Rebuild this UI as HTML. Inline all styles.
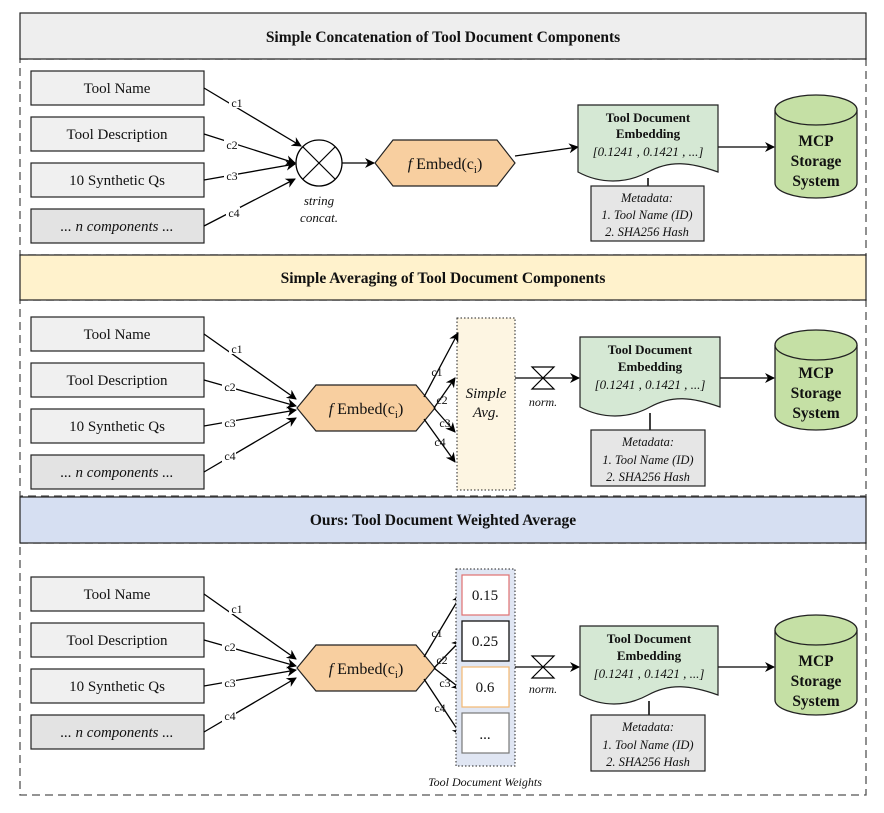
<!DOCTYPE html>
<html><head><meta charset="utf-8"><style>
html,body{margin:0;padding:0;background:#fff}
svg{display:block}
text{font-family:"Liberation Serif",serif;fill:#111}
.b{font-weight:bold}
.i{font-style:italic}
</style></head><body>
<svg width="884" height="813" viewBox="0 0 884 813" xmlns="http://www.w3.org/2000/svg">
<defs>
<marker id="a" markerWidth="10" markerHeight="10" refX="9" refY="5" orient="auto" markerUnits="userSpaceOnUse"><path d="M0,0 L10,5 L0,10 L3,5 z" fill="#000"/></marker>
</defs>
<!-- section containers -->
<g fill="none" stroke="#555" stroke-width="1.3" stroke-dasharray="8,5">
<rect x="20" y="59" width="846" height="196"/>
<rect x="20" y="300" width="846" height="196"/>
<rect x="20" y="543" width="846" height="252"/>
</g>
<rect x="20" y="13" width="846" height="46" fill="#eeeeee" stroke="#222" stroke-width="1.2"/>
<text x="443" y="42" text-anchor="middle" class="b" font-size="15.5">Simple Concatenation of Tool Document Components</text>
<rect x="20" y="255" width="846" height="45" fill="#fff2cc" stroke="#222" stroke-width="1.2"/>
<text x="443" y="283" text-anchor="middle" class="b" font-size="15.5">Simple Averaging of Tool Document Components</text>
<rect x="20" y="497" width="846" height="46" fill="#d6dff2" stroke="#222" stroke-width="1.2"/>
<text x="443" y="525" text-anchor="middle" class="b" font-size="15.5">Ours: Tool Document Weighted Average</text>

<!-- input boxes -->
<g stroke="#222" stroke-width="1.2">
<rect x="31" y="71" width="173" height="34" fill="#f0f0f0"/>
<rect x="31" y="117" width="173" height="34" fill="#f0f0f0"/>
<rect x="31" y="163" width="173" height="34" fill="#f0f0f0"/>
<rect x="31" y="209" width="173" height="34" fill="#e3e3e3"/>
<rect x="31" y="317" width="173" height="34" fill="#f0f0f0"/>
<rect x="31" y="363" width="173" height="34" fill="#f0f0f0"/>
<rect x="31" y="409" width="173" height="34" fill="#f0f0f0"/>
<rect x="31" y="455" width="173" height="34" fill="#e3e3e3"/>
<rect x="31" y="577" width="173" height="34" fill="#f0f0f0"/>
<rect x="31" y="623" width="173" height="34" fill="#f0f0f0"/>
<rect x="31" y="669" width="173" height="34" fill="#f0f0f0"/>
<rect x="31" y="715" width="173" height="34" fill="#e3e3e3"/>
</g>
<g font-size="15" text-anchor="middle">
<text x="117" y="93">Tool Name</text><text x="117" y="139">Tool Description</text><text x="117" y="185">10 Synthetic Qs</text><text x="117" y="231" class="i">... n components ...</text>
<text x="117" y="339">Tool Name</text><text x="117" y="385">Tool Description</text><text x="117" y="431">10 Synthetic Qs</text><text x="117" y="477" class="i">... n components ...</text>
<text x="117" y="599">Tool Name</text><text x="117" y="645">Tool Description</text><text x="117" y="691">10 Synthetic Qs</text><text x="117" y="737" class="i">... n components ...</text>
</g>

<!-- section 1 arrows -->
<g stroke="#000" stroke-width="1.3" fill="none" marker-end="url(#a)">
<line x1="204" y1="88" x2="301" y2="146"/>
<line x1="204" y1="134" x2="295" y2="163"/>
<line x1="204" y1="180" x2="295" y2="164"/>
<line x1="204" y1="226" x2="295" y2="179"/>
<line x1="342" y1="163" x2="374" y2="163"/>
<line x1="515" y1="156" x2="578" y2="147"/>
<line x1="717" y1="147" x2="774" y2="147"/>
</g>
<circle cx="319" cy="163" r="23" fill="#fff" stroke="#000" stroke-width="1.3"/>
<line x1="303" y1="147" x2="335" y2="179" stroke="#000" stroke-width="1.2"/>
<line x1="335" y1="147" x2="303" y2="179" stroke="#000" stroke-width="1.2"/>
<text x="319" y="205" text-anchor="middle" class="i" font-size="13">string</text>
<text x="319" y="222" text-anchor="middle" class="i" font-size="13">concat.</text>
<g font-size="12" text-anchor="middle">
<rect x="229" y="96" width="14" height="12" fill="#fff"/><text x="237" y="107">c1</text>
<rect x="224" y="139" width="14" height="12" fill="#fff"/><text x="232" y="149">c2</text>
<rect x="224" y="170" width="14" height="12" fill="#fff"/><text x="232" y="180">c3</text>
<rect x="226" y="207" width="14" height="12" fill="#fff"/><text x="234" y="217">c4</text>
</g>

<!-- hexagons -->
<g fill="#f8cfa0" stroke="#222" stroke-width="1.2">
<polygon points="375,163 393,140 497,140 515,163 497,186 393,186"/>
<polygon points="297,408 316,385 416,385 435,408 416,431 316,431"/>
<polygon points="297,668 316,645 416,645 435,668 416,691 316,691"/>
</g>
<g font-size="16" text-anchor="middle">
<text x="445" y="169"><tspan class="i">f</tspan> Embed(c<tspan font-size="11" dy="4">i</tspan><tspan dy="-4">)</tspan></text>
<text x="366" y="414"><tspan class="i">f</tspan> Embed(c<tspan font-size="11" dy="4">i</tspan><tspan dy="-4">)</tspan></text>
<text x="366" y="674"><tspan class="i">f</tspan> Embed(c<tspan font-size="11" dy="4">i</tspan><tspan dy="-4">)</tspan></text>
</g>

<!-- section 2/3 input arrows -->
<g stroke="#000" stroke-width="1.3" fill="none" marker-end="url(#a)">
<line x1="204" y1="334" x2="296" y2="399"/>
<line x1="204" y1="380" x2="296" y2="406"/>
<line x1="204" y1="426" x2="296" y2="410"/>
<line x1="204" y1="472" x2="296" y2="418"/>
<line x1="204" y1="594" x2="296" y2="659"/>
<line x1="204" y1="640" x2="296" y2="666"/>
<line x1="204" y1="686" x2="296" y2="670"/>
<line x1="204" y1="732" x2="296" y2="678"/>
</g>
<g font-size="12" text-anchor="middle">
<rect x="229" y="342" width="14" height="12" fill="#fff"/><text x="237" y="353">c1</text>
<rect x="222" y="381" width="14" height="12" fill="#fff"/><text x="230" y="391">c2</text>
<rect x="222" y="417" width="14" height="12" fill="#fff"/><text x="230" y="427">c3</text>
<rect x="222" y="450" width="14" height="12" fill="#fff"/><text x="230" y="460">c4</text>
<rect x="229" y="602" width="14" height="12" fill="#fff"/><text x="237" y="613">c1</text>
<rect x="222" y="641" width="14" height="12" fill="#fff"/><text x="230" y="651">c2</text>
<rect x="222" y="677" width="14" height="12" fill="#fff"/><text x="230" y="687">c3</text>
<rect x="222" y="710" width="14" height="12" fill="#fff"/><text x="230" y="720">c4</text>
</g>

<!-- simple avg -->
<rect x="457" y="318" width="58" height="172" fill="#fdf5e2" stroke="#222" stroke-width="1" stroke-dasharray="1.5,2"/>
<text x="486" y="398" text-anchor="middle" class="i" font-size="15">Simple</text>
<text x="486" y="417" text-anchor="middle" class="i" font-size="15">Avg.</text>
<g stroke="#000" stroke-width="1.3" fill="none" marker-end="url(#a)">
<line x1="424" y1="397" x2="458" y2="333"/>
<line x1="434" y1="408" x2="455" y2="378"/>
<line x1="434" y1="408" x2="455" y2="432"/>
<line x1="424" y1="419" x2="455" y2="462"/>
<line x1="424" y1="657" x2="461" y2="595"/>
<line x1="434" y1="668" x2="461" y2="640"/>
<line x1="434" y1="668" x2="461" y2="689"/>
<line x1="424" y1="679" x2="461" y2="735"/>
</g>
<g font-size="12" text-anchor="middle">
<text x="437" y="376">c1</text><text x="442" y="404">c2</text><text x="445" y="427">c3</text><text x="440" y="446">c4</text>
<text x="437" y="637">c1</text><text x="442" y="664">c2</text><text x="445" y="687">c3</text><text x="440" y="712">c4</text>
</g>

<!-- weights -->
<rect x="456" y="569" width="59" height="197" fill="#e0e6f3" stroke="#222" stroke-width="1" stroke-dasharray="1.5,2"/>
<rect x="462" y="575" width="47" height="40" fill="#fff" stroke="#e07070" stroke-width="1.2"/>
<rect x="462" y="621" width="47" height="40" fill="#fff" stroke="#111" stroke-width="1.3"/>
<rect x="462" y="667" width="47" height="40" fill="#fff" stroke="#f4b870" stroke-width="1.2"/>
<rect x="462" y="713" width="47" height="40" fill="#fff" stroke="#777" stroke-width="1.2"/>
<g font-size="15" text-anchor="middle">
<text x="485" y="600">0.15</text><text x="485" y="646">0.25</text><text x="485" y="692">0.6</text><text x="485" y="739">...</text>
</g>
<text x="485" y="786" text-anchor="middle" class="i" font-size="12">Tool Document Weights</text>

<!-- norm and arrows -->
<g stroke="#000" stroke-width="1.3" fill="none" marker-end="url(#a)">
<line x1="515" y1="378" x2="579" y2="378"/>
<line x1="720" y1="378" x2="774" y2="378"/>
<line x1="515" y1="667" x2="579" y2="667"/>
<line x1="718" y1="667" x2="774" y2="667"/>
</g>
<g fill="#fff" stroke="#000" stroke-width="1.2">
<polygon points="532,367 554,367 532,389 554,389"/>
<polygon points="532,656 554,656 532,678 554,678"/>
</g>
<text x="543" y="406" text-anchor="middle" class="i" font-size="12">norm.</text>
<text x="543" y="693" text-anchor="middle" class="i" font-size="12">norm.</text>

<!-- doc shapes -->
<g fill="#d5e8d4" stroke="#222" stroke-width="1.2">
<path d="M578,105 H718 V172 C690,162 670,160 648,172 C626,184 600,184 578,172 Z"/>
<path d="M580,337 H720 V407 C692,397 672,395 650,407 C628,419 602,419 580,407 Z"/>
<path d="M580,626 H718 V695 C690,685 670,683 648,695 C626,707 602,707 580,695 Z"/>
</g>
<g stroke="#000" stroke-width="1.5">
<line x1="648" y1="178" x2="648" y2="186"/>
<line x1="650" y1="413" x2="650" y2="430"/>
<line x1="649" y1="701" x2="649" y2="715"/>
</g>
<g text-anchor="middle">
<text x="648" y="122" class="b" font-size="13">Tool Document</text>
<text x="648" y="138" class="b" font-size="13">Embedding</text>
<text x="648" y="156" class="i" font-size="13">[0.1241 , 0.1421 , ...]</text>
<text x="650" y="354" class="b" font-size="13">Tool Document</text>
<text x="650" y="371" class="b" font-size="13">Embedding</text>
<text x="650" y="389" class="i" font-size="13">[0.1241 , 0.1421 , ...]</text>
<text x="649" y="643" class="b" font-size="13">Tool Document</text>
<text x="649" y="660" class="b" font-size="13">Embedding</text>
<text x="649" y="678" class="i" font-size="13">[0.1241 , 0.1421 , ...]</text>
</g>

<!-- metadata -->
<g fill="#e6e6e6" stroke="#222" stroke-width="1.2">
<rect x="591" y="186" width="113" height="55"/>
<rect x="591" y="430" width="114" height="56"/>
<rect x="591" y="715" width="114" height="56"/>
</g>
<g text-anchor="middle" class="i" font-size="12.5">
<text x="647" y="202">Metadata:</text><text x="647" y="219">1. Tool Name (ID)</text><text x="647" y="236">2. SHA256 Hash</text>
<text x="648" y="446">Metadata:</text><text x="648" y="464">1. Tool Name (ID)</text><text x="648" y="481">2. SHA256 Hash</text>
<text x="648" y="731">Metadata:</text><text x="648" y="749">1. Tool Name (ID)</text><text x="648" y="766">2. SHA256 Hash</text>
</g>

<!-- cylinders -->
<g fill="#c5e0a5" stroke="#222" stroke-width="1.3">
<path d="M775,110 V183 A41,15 0 0 0 857,183 V110"/>
<ellipse cx="816" cy="110" rx="41" ry="15"/>
<path d="M775,345 V415 A41,15 0 0 0 857,415 V345"/>
<ellipse cx="816" cy="345" rx="41" ry="15"/>
<path d="M775,630 V700 A41,15 0 0 0 857,700 V630"/>
<ellipse cx="816" cy="630" rx="41" ry="15"/>
</g>
<g text-anchor="middle" class="b" font-size="15.5">
<text x="816" y="146">MCP</text><text x="816" y="166">Storage</text><text x="816" y="186">System</text>
<text x="816" y="378">MCP</text><text x="816" y="398">Storage</text><text x="816" y="418">System</text>
<text x="816" y="666">MCP</text><text x="816" y="686">Storage</text><text x="816" y="706">System</text>
</g>
</svg>
</body></html>
